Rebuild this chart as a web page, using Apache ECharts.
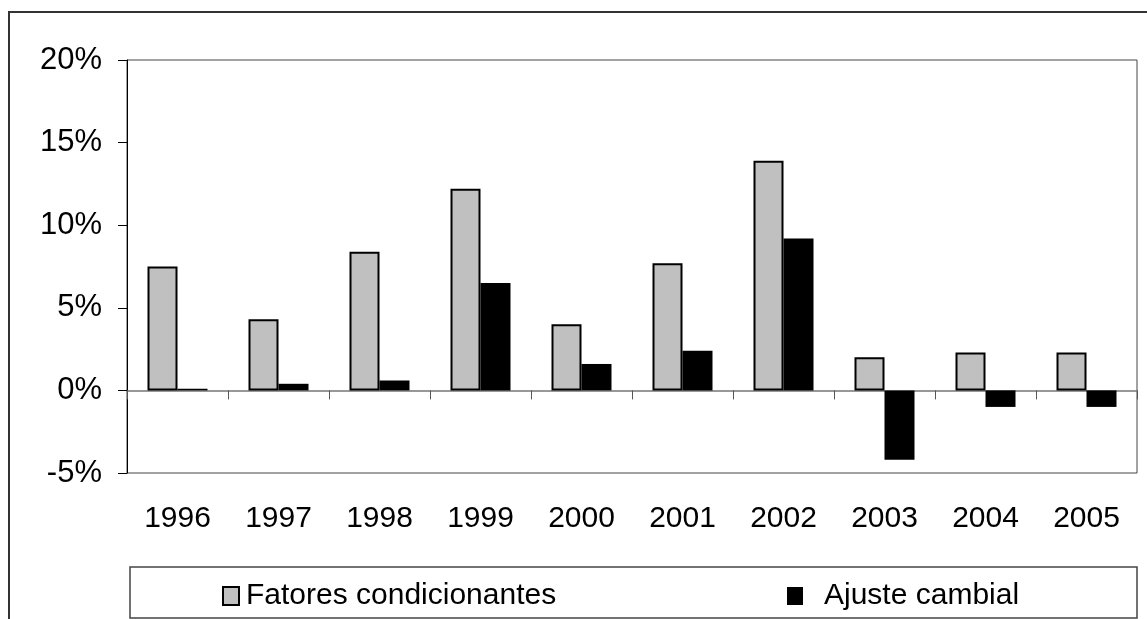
<!DOCTYPE html>
<html>
<head>
<meta charset="utf-8">
<script src="https://cdn.jsdelivr.net/npm/echarts@6/dist/echarts.min.js"></script>
<style>
  html, body { margin: 0; padding: 0; background: #fff; }
  #chart { width: 1147px; height: 619px; }
</style>
</head>
<body>
<div id="chart"></div>
<script>
// Years on the category axis
const years = ['1996', '1997', '1998', '1999', '2000', '2001', '2002', '2003', '2004', '2005'];
// Annual contributions, in percent
const fatoresCondicionantes = [7.5, 4.3, 8.4, 12.2, 4.0, 7.7, 13.9, 2.0, 2.3, 2.3];
const ajusteCambial = [0.1, 0.4, 0.6, 6.5, 1.6, 2.4, 9.2, -4.2, -1.0, -1.0];
// Value axis range
const yMin = -5, yMax = 20, yStep = 5;

const FONT = '"Liberation Sans", Arial, sans-serif';
const chart = echarts.init(document.getElementById('chart'), null, { renderer: 'canvas' });

const legendBase = {
  top: 576,
  itemWidth: 16, itemHeight: 18,
  icon: 'rect'
};

chart.setOption({
  animation: false,
  backgroundColor: '#fff',
  grid: {
    left: 127, top: 60, right: 10, bottom: 146,
    show: true, borderColor: '#444', borderWidth: 1, backgroundColor: 'transparent'
  },
  graphic: [
    // outer frame around the whole figure
    { type: 'rect', shape: { x: 9, y: 12, width: 1200, height: 700 },
      style: { fill: 'none', stroke: '#333', lineWidth: 2 }, silent: true, z: -1 },
    // legend frame
    { type: 'rect', shape: { x: 130, y: 567, width: 1007, height: 51 },
      style: { fill: 'none', stroke: '#444', lineWidth: 1.5 }, silent: true, z: -1 }
  ],
  legend: [
    Object.assign({}, legendBase, {
      left: 217,
      textStyle: { fontFamily: FONT, fontSize: 30, color: '#000', padding: [0, 0, 0, 2] },
      data: ['Fatores condicionantes']
    }),
    Object.assign({}, legendBase, {
      left: 782,
      textStyle: { fontFamily: FONT, fontSize: 30, color: '#000', padding: [0, 0, 0, 16] },
      data: ['Ajuste cambial']
    })
  ],
  xAxis: [
    {
      // baseline at zero with the category tick marks
      type: 'category', data: years, position: 'bottom',
      axisLine: { onZero: true, lineStyle: { color: '#777', width: 1.5 } },
      axisTick: { show: true, length: 9, inside: false, lineStyle: { color: '#555' } },
      axisLabel: { show: false },
      splitLine: { show: false }
    },
    {
      // year labels below the plot
      type: 'category', data: years, position: 'bottom',
      axisLine: { show: false, onZero: false },
      axisTick: { show: false },
      axisLabel: { show: true, margin: 31, fontFamily: FONT, fontSize: 30, color: '#000' },
      splitLine: { show: false }
    }
  ],
  yAxis: {
    type: 'value', min: yMin, max: yMax, interval: yStep,
    axisLine: { show: true, lineStyle: { color: '#000', width: 1 } },
    axisTick: { show: true, length: 9, inside: false, lineStyle: { color: '#000' } },
    axisLabel: { margin: 25, fontFamily: FONT, fontSize: 31, color: '#000', formatter: '{value}%' },
    splitLine: { show: false }
  },
  series: [
    {
      name: 'Fatores condicionantes', type: 'bar', data: fatoresCondicionantes,
      barWidth: 30, barGap: '0%',
      itemStyle: { color: '#c0c0c0', borderColor: '#000', borderWidth: 2 }
    },
    {
      name: 'Ajuste cambial', type: 'bar', data: ajusteCambial,
      barWidth: 30, barGap: '0%',
      itemStyle: { color: '#000', borderWidth: 0 }
    }
  ]
});
</script>
</body>
</html>
